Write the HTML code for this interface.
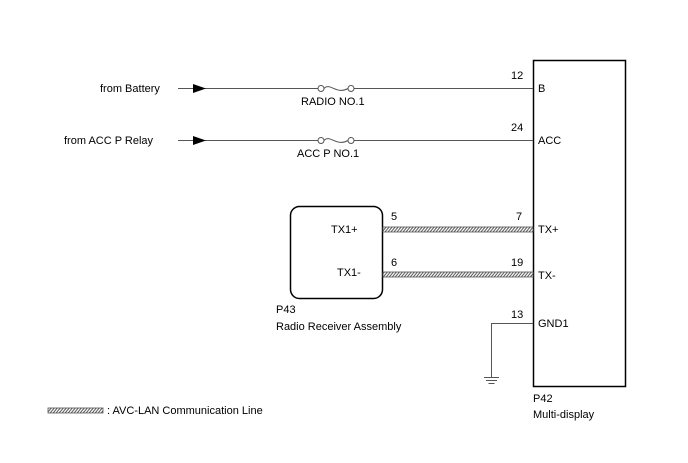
<html><body style="margin:0;background:#fff">
<svg width="688" height="463" xmlns="http://www.w3.org/2000/svg" font-family="Liberation Sans, sans-serif" font-size="11" fill="#000">
<defs>
<pattern id="h" width="3" height="4" patternUnits="userSpaceOnUse" patternTransform="skewX(-40)">
<rect width="3" height="4" fill="#fff"/><rect width="1.3" height="4" fill="#555"/></pattern>
</defs>
<rect x="533.5" y="60.5" width="92" height="326" fill="none" stroke="#000" stroke-width="1.5"/>
<g stroke="#555" stroke-width="1" fill="none">
<line x1="178" y1="88.5" x2="318" y2="88.5"/><line x1="354" y1="88.5" x2="533" y2="88.5"/>
<line x1="178" y1="140.5" x2="318" y2="140.5"/><line x1="354" y1="140.5" x2="533" y2="140.5"/>
<circle cx="321" cy="88.5" r="3"/><circle cx="351" cy="88.5" r="3"/>
<path d="M324 88.5 C330 82 336 95 348 88.5"/>
<circle cx="321" cy="140.5" r="3"/><circle cx="351" cy="140.5" r="3"/>
<path d="M324 140.5 C330 134 336 147 348 140.5"/>
<polyline points="533,323.5 491.5,323.5 491.5,377"/>
<line x1="484" y1="377.5" x2="499" y2="377.5"/><line x1="486" y1="380.5" x2="497" y2="380.5"/><line x1="488.5" y1="383.5" x2="494.5" y2="383.5"/>
</g>
<polygon points="193,84 206,88.5 193,93" fill="#000"/>
<polygon points="193,136 206,140.5 193,145" fill="#000"/>
<rect x="290.5" y="206.5" width="92" height="92" rx="9" fill="none" stroke="#000" stroke-width="1.5"/>
<rect x="383" y="227" width="150" height="5" fill="url(#h)" stroke="#555" stroke-width="0.8"/>
<rect x="383" y="272" width="150" height="5" fill="url(#h)" stroke="#555" stroke-width="0.8"/>
<rect x="48" y="408" width="55" height="5" fill="url(#h)" stroke="#555" stroke-width="0.8"/>
<text x="100" y="92">from Battery</text>
<text x="64" y="144">from ACC P Relay</text>
<text x="301" y="105">RADIO NO.1</text>
<text x="297" y="157">ACC P NO.1</text>
<text x="511" y="79">12</text><text x="538" y="92">B</text>
<text x="511" y="131">24</text><text x="538" y="144">ACC</text>
<text x="516" y="220">7</text><text x="538" y="233">TX+</text>
<text x="511" y="266">19</text><text x="538" y="279">TX-</text>
<text x="511" y="318">13</text><text x="538" y="327">GND1</text>
<text x="391" y="220">5</text><text x="331" y="233">TX1+</text>
<text x="391" y="266">6</text><text x="337" y="276">TX1-</text>
<text x="276" y="313">P43</text>
<text x="276" y="330">Radio Receiver Assembly</text>
<text x="533" y="402">P42</text>
<text x="533" y="418">Multi-display</text>
<text x="107" y="414">: AVC-LAN Communication Line</text>
</svg>
</body></html>
